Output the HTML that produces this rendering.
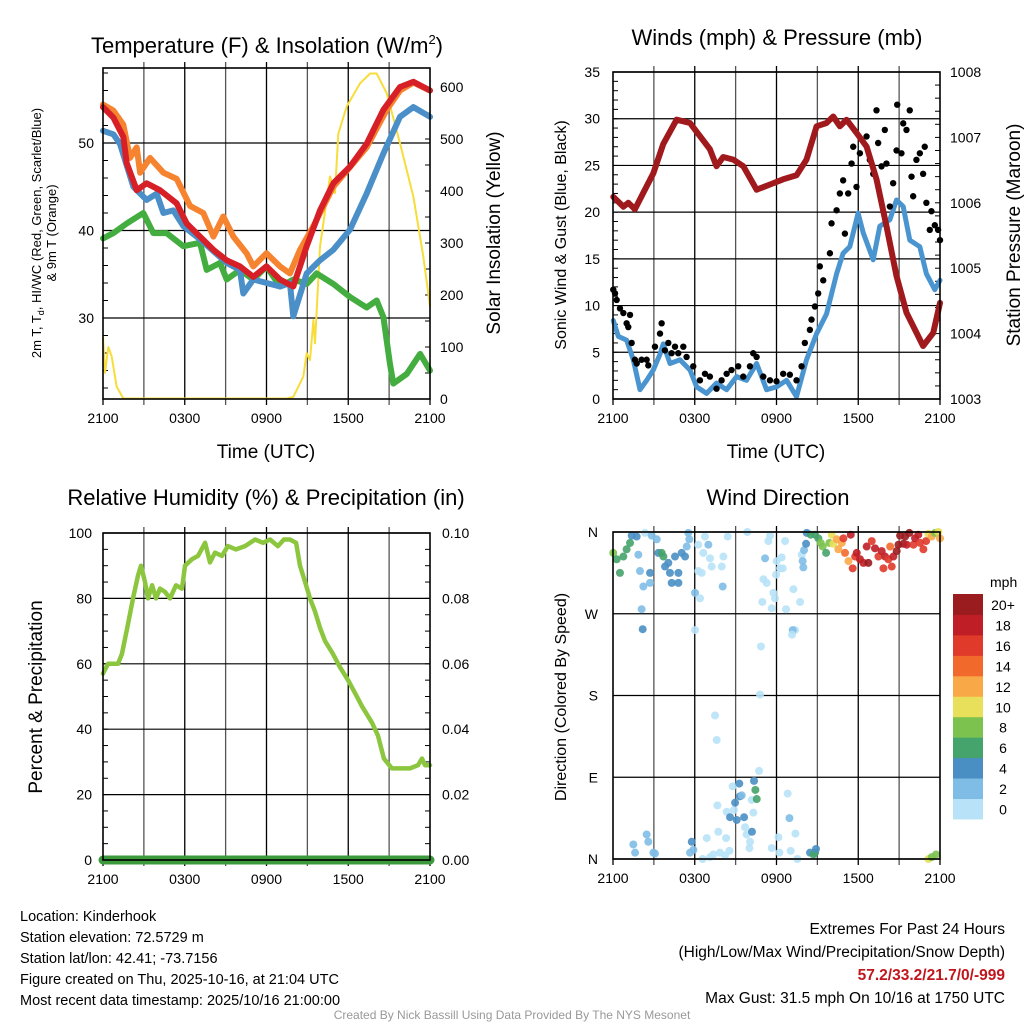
<!DOCTYPE html>
<html><head><meta charset="utf-8"><style>
html,body{margin:0;padding:0;background:#fff;}
svg{display:block;font-family:"Liberation Sans",sans-serif;}
</style></head>
<body>
<svg id="chart" width="1024" height="1024" viewBox="0 0 1024 1024" xmlns="http://www.w3.org/2000/svg">
<rect x="0" y="0" width="1024" height="1024" fill="#fff"/>
<g id="layer"></g>
<text x="267" y="53" font-size="22" text-anchor="middle">Temperature (F) &amp; Insolation (W/m<tspan font-size="13" dy="-9">2</tspan><tspan dy="9">)</tspan></text>
<text x="777" y="45" font-size="22" text-anchor="middle">Winds (mph) &amp; Pressure (mb)</text>
<text x="266" y="505" font-size="22" text-anchor="middle">Relative Humidity (%) &amp; Precipitation (in)</text>
<text x="778" y="505" font-size="22" text-anchor="middle">Wind Direction</text>
<text font-size="13" text-anchor="middle" transform="translate(41,233) rotate(-90)">2m T, T<tspan font-size="9" dy="3">d</tspan><tspan dy="-3">, HI/WC (Red, Green, Scarlet/Blue)</tspan></text>
<text font-size="13" text-anchor="middle" transform="translate(56,233) rotate(-90)">&amp; 9m T (Orange)</text>
<text font-size="19" text-anchor="middle" transform="translate(500,233) rotate(-90)">Solar Insolation (Yellow)</text>
<text x="266" y="458" font-size="19" text-anchor="middle">Time (UTC)</text>
<text font-size="16" text-anchor="middle" transform="translate(566,235) rotate(-90)">Sonic Wind &amp; Gust (Blue, Black)</text>
<text font-size="19" text-anchor="middle" transform="translate(1020,235) rotate(-90)">Station Pressure (Maroon)</text>
<text x="776" y="458" font-size="19" text-anchor="middle">Time (UTC)</text>
<text font-size="19" text-anchor="middle" transform="translate(42,697) rotate(-90)">Percent &amp; Precipitation</text>
<text font-size="16" text-anchor="middle" transform="translate(566,697) rotate(-90)">Direction (Colored By Speed)</text>
<text x="990" y="587" font-size="14">mph</text>
<g font-size="14.5">
<text x="20" y="921">Location: Kinderhook</text>
<text x="20" y="942">Station elevation: 72.5729 m</text>
<text x="20" y="963">Station lat/lon: 42.41; -73.7156</text>
<text x="20" y="984">Figure created on Thu, 2025-10-16, at 21:04 UTC</text>
<text x="20" y="1005">Most recent data timestamp: 2025/10/16 21:00:00</text>
</g>
<g font-size="15.5" text-anchor="end">
<text x="1005" y="934">Extremes For Past 24 Hours</text>
<text x="1005" y="957">(High/Low/Max Wind/Precipitation/Snow Depth)</text>
<text x="1005" y="980" fill="#c0171e" font-weight="bold">57.2/33.2/21.7/0/-999</text>
<text x="1005" y="1003">Max Gust: 31.5 mph On 10/16 at 1750 UTC</text>
</g>
<text x="512" y="1019" font-size="12" fill="#999" text-anchor="middle">Created By Nick Bassill Using Data Provided By The NYS Mesonet</text>
</svg>
<script>
// ---- data (hours after 2100 UTC) ----
const timeLabels = ["2100","0300","0900","1500","2100"];
const redT = [0,0.76,1.49,1.74,2.47,3.2,4.18,5.41,6.14,7.12,8.1,9.08,10.05,11.03,12.0,12.99,13.97,14.95,15.93,16.9,18.13,19.35,20.58,21.8,22.78,24];
const redV = [54.1,52.9,50.7,47.7,44.6,45.4,44.6,43.1,40.8,39.3,37.8,36.6,35.9,34.7,35.9,34.4,33.6,38.2,42.3,45.4,47.3,49.9,53.8,56.4,57,56];
const orangeT = [0,0.76,1.49,1.98,2.47,2.72,3.45,4.43,5.41,6.39,7.36,8.1,8.83,9.57,10.54,11.03,12.0,12.99,13.72,14.46,15.44,16.9,19.35,20.82,21.8,22.78,24];
const orangeV = [54.4,53.7,52.1,48.3,49.5,46.6,48.3,46.6,45.9,42.8,42,39.3,41.6,39.3,37.4,35.9,37.4,35.9,35.1,37.8,40.5,45,49.5,53.8,56,56.9,56];
const blueT = [0,0.76,1.25,2.23,3.2,3.94,4.43,5.16,5.9,7.12,9.08,10.05,10.3,11.03,12.99,13.72,13.97,14.95,15.93,16.9,18.13,19.35,20.58,21.8,22.78,24];
const blueV = [51.4,51,49.9,45,43.5,44.2,42,42.3,40.5,39,36.3,35.5,32.8,34.4,33.6,34,30.2,35.1,36.6,37.8,40.1,44.2,48.8,53,54.1,53];
const greenT = [0,0.76,1.74,2.96,3.69,4.67,5.9,7.12,7.61,8.59,9.08,10.05,11.03,12.0,12.99,13.97,14.95,15.68,16.9,18.13,19.35,20.09,20.58,21.06,21.31,22.29,23.27,24];
const greenV = [39.1,39.7,40.8,42,39.7,39.7,38.2,38.6,35.5,36.3,34.4,35.5,34.4,35.9,33.6,34.4,33.9,35.1,33.9,32.4,31.2,32,30.1,24.8,22.5,23.6,25.9,24];
const solarT = [0,0.15,0.39,0.64,1.0,1.49,13.5,13.97,14.7,14.95,15.19,15.44,15.56,15.93,16.66,17.03,17.27,17.88,18.86,19.6,20.09,20.82,21.8,22.78,23.51,24];
const solarV = [118,50,100,82,24,1,1,4,43,88,75,152,107,293,428,396,510,562,607,626,626,588,492,389,274,178];
const presT = [0.02,0.76,1.12,1.61,2.22,2.96,3.69,4.67,5.65,6.38,7.11,7.6,8.09,8.83,9.56,10.54,11.52,12.49,13.47,14.2,14.94,15.67,16.16,16.65,17.14,17.87,18.61,19.34,20.07,20.81,21.54,22.76,23.5,24];
const presV = [1006.09,1005.94,1006.0,1005.9,1006.15,1006.45,1006.9,1007.27,1007.22,1007.02,1006.82,1006.56,1006.7,1006.66,1006.56,1006.2,1006.28,1006.36,1006.42,1006.66,1007.17,1007.22,1007.32,1007.17,1007.27,1007.07,1006.86,1006.36,1005.64,1004.88,1004.32,1003.81,1004.01,1004.47];
const windT = [0.02,0.39,1.0,1.49,1.98,2.47,2.96,3.45,3.69,4.18,4.91,5.65,6.14,6.87,7.6,8.34,9.07,9.8,10.54,11.27,12.0,12.74,13.47,14.2,14.94,15.67,16.41,16.89,17.38,17.99,18.36,19.1,19.58,20.32,20.81,21.3,21.78,22.52,23.0,23.62,24];
const windV = [8.4,6.7,6.3,4.2,1.0,2.0,3.1,4.8,5.9,3.8,4.2,3.1,1.3,0.6,1.7,1.0,2.4,2.0,3.8,1.0,1.3,2.0,0.25,4.2,7.0,9.1,13.4,15.6,16.3,19.9,17.8,14.9,18.5,19.2,21.3,20.6,17.0,16.3,13.4,11.7,12.7];
const gustT = [0.02,0.15,0.27,0.51,0.76,1.0,1.12,1.25,1.37,1.61,1.74,2.1,2.47,2.59,3.08,3.45,3.57,3.81,4.06,4.3,4.55,4.79,5.16,5.4,5.89,6.38,6.75,7.11,7.6,7.97,8.34,8.7,9.19,9.56,10.05,10.29,10.54,11.03,11.52,12.0,12.49,12.98,13.47,13.84,14.08,14.45,14.57,14.82,15.06,15.18,15.43,15.92,16.04,16.41,16.65,16.89,17.02,17.26,17.51,17.63,17.87,18.12,18.61,18.85,19.1,19.34,19.46,19.71,19.95,20.07,20.32,20.56,20.81,20.86,21.17,21.3,21.54,21.78,21.91,22.03,22.27,22.52,22.76,22.88,23.0,23.25,23.37,23.62,23.86,24];
const gustV = [11.7,11.3,10.6,9.7,9.2,8.1,7.7,9.0,6.0,4.2,3.8,4.2,4.2,3.6,5.6,7.0,8.1,5.2,6.0,4.9,5.6,4.9,5.6,4.5,3.5,2.0,2.7,2.4,1.1,2.0,2.7,3.1,3.5,2.4,3.5,4.9,4.5,2.4,2.0,1.9,2.7,2.6,2.0,3.5,6.0,7.4,8.5,9.9,11.3,14.2,12.7,15.6,18.8,20.2,22.0,23.4,17.7,22.0,25.2,27.0,22.7,26.3,28.1,25.6,24.1,30.9,27.4,24.9,28.8,25.2,20.6,23.1,26.6,31.5,26.3,29.5,28.8,30.9,23.8,21.7,25.6,26.3,24.1,27.0,21.0,18.1,20.1,18.6,18.1,17.0];
const rhT = [0,0.37,1.1,1.39,1.83,2.2,2.57,2.79,3.08,3.3,3.6,3.89,4.18,4.55,4.92,5.36,5.8,6.02,6.53,6.97,7.49,7.85,8.22,8.73,9.17,9.76,10.42,11.16,11.74,12.26,12.84,13.28,13.72,14.17,14.46,14.83,15.19,15.56,15.93,16.29,16.88,17.39,17.98,18.5,19.01,19.74,20.18,20.62,21.21,21.8,22.53,23.12,23.41,23.63,24];
const rhV = [57,60,60,63,72,80,87,90,85,80,84,80,83,82,80,84,83,90,92,93,97,91,94,93,96,95,96,98,97,98,96,98,98,97,90,85,80,76,71,67,63,59,55,51,47,42,38,31,28,28,28,29,31,29,29];
const precipT = [0,24];
const precipV = [0,0];
const dirT = [0.02,0.27,0.51,0.76,1.0,1.25,1.37,1.74,1.86,1.98,2.23,2.72,2.72,2.1,2.18,2.35,2.84,3.21,3.33,3.57,3.7,3.82,4.06,4.18,4.31,4.55,4.8,4.8,5.04,5.29,5.41,5.53,5.6,6.02,6.02,6.26,6.39,6.26,6.51,6.63,6.75,7.0,7.12,7.24,7.98,8.1,8.05,8.42,7.49,7.61,9.86,10.79,10.86,10.96,11.04,11.16,11.28,11.4,11.53,11.65,11.77,11.89,11.97,12.01,12.26,12.38,12.46,12.63,12.7,13.24,13.36,13.19,13.14,13.73,13.85,13.92,13.97,14.02,14.17,14.22,14.51,14.83,15.07,15.24,15.39,15.64,15.88,16.05,16.17,16.42,16.54,16.79,16.91,17.03,17.28,17.45,17.59,17.77,17.89,18.13,18.38,18.62,18.74,18.99,19.23,19.48,19.72,19.85,19.97,20.21,20.34,20.46,20.58,20.82,20.95,21.07,21.31,21.44,21.56,21.75,22.05,22.17,22.41,22.54,22.78,22.98,23.15,23.39,23.64,23.88,24,
1.49,1.62,2.47,2.59,2.96,3.08,5.78,5.9,5.65,6.58,6.88,7.12,7.37,7.73,7.85,8.22,8.3,8.54,7.66,8.35,8.59,8.78,8.88,8.96,9.08,9.27,9.32,9.45,9.62,9.69,9.81,10.01,10.06,10.18,10.2,10.3,10.35,10.45,10.55,10.72,11.65,12.14,12.21,12.82,12.95,13.04,13.39,13.53,14.46,14.71,14.83,14.9,23.15,23.39,23.71];
const dirV = [337,330,315,333,341,348,356,355,335,317,300,304,315,275,253,359,356,352,337,337,333,322,326,315,304,333,315,304,337,333,344,359,352,293,252,346,287,317,315,337,355,346,331,322,322,333,300,355,158,131,360,181,234,283,308,331,304,350,356,276,293,287,313,328,320,332,320,350,275,297,252,252,247,283,335,328,321,340,347,359,357,357,353,348,344,337,348,357,347,352,341,348,353,337,328,357,320,333,337,330,326,344,326,350,342,333,339,320,333,330,344,322,333,339,346,356,347,355,346,359,346,353,357,348,341,350,358,355,359,360,353,
16,7,27,19,7,6,19,10,7,0,23,2,5,30,7,4,23,9,59,52,46,80,54,62,43,83,69,70,46,35,27,12,19,65,30,51,86,76,66,97,12,24,7,72,45,9,28,0,7,5,7,11,0,2,5];
const dirS = [9,7,7,7,7,7,5,5,3,3,3,3,5,3,5,1,3,3,5,7,7,5,5,5,5,5,5,5,5,5,3,3,3,3,1,1,1,1,1,1,1,3,1,1,1,1,3,1,1,1,1,1,1,1,1,3,1,1,1,1,1,1,1,1,1,1,1,1,1,1,1,3,1,1,1,3,3,3,5,5,7,7,7,9,9,7,9,11,11,13,13,13,17,15,13,19,17,17,19,19,19,19,21,17,19,17,19,17,19,17,15,17,19,21,21,21,21,21,19,21,17,19,19,17,17,17,11,13,9,11,13,
3,3,3,3,3,3,5,3,3,1,1,1,1,1,1,1,1,1,1,1,5,1,1,5,5,5,5,3,5,1,1,1,1,1,5,1,5,7,7,1,1,1,1,1,3,1,1,1,5,7,7,5,11,9,9];
const speedBins = ["0","2","4","6","8","10","12","14","16","18","20+"];
const binColors = ["#b8e2f7","#7fbde6","#4a8fc4","#45a36c","#7cc24e","#e8e05a","#f9a848","#f26a2b","#e03a2a","#c01e26","#9b1c1f"];

// ---- helpers ----
const NS="http://www.w3.org/2000/svg";
const layer=document.getElementById('layer');
function mk(tag,attrs,parent){const e=document.createElementNS(NS,tag);for(const k in attrs)e.setAttribute(k,attrs[k]);(parent||layer).appendChild(e);return e;}
function lin(d0,d1,r0,r1){return v=>r0+(v-d0)*(r1-r0)/(d1-d0);}
function pathOf(ts,vs,sx,sy){return ts.map((t,i)=>(i?'L':'M')+sx(t).toFixed(1)+' '+sy(vs[i]).toFixed(1)).join(' ');}

function frame(name,x0,y0,x1,y1){
  const g=mk('g',{});
  
  
  const sx=lin(0,24,x0,x1);
  for(let h=3;h<24;h+=3){
    const l=mk('line',{x1:sx(h),x2:sx(h),y1:y0-6,y2:y1+6,stroke:(h%6===0?'#000':'#555'),'stroke-width':1.3},g);
  }
  mk('line',{x1:x0,x2:x0,y1:y1,y2:y1+6,stroke:'#000','stroke-width':1.3},g);
  mk('line',{x1:x1,x2:x1,y1:y1,y2:y1+6,stroke:'#000','stroke-width':1.3},g);
  timeLabels.forEach((lab,i)=>{
    const t=mk('text',{x:sx(i*6),y:y1+24,'font-size':14,'text-anchor':'middle'},g);
    t.textContent=lab;
  });
  return {g,sx};
}
function box(name,x0,y0,x1,y1){
  const r=mk('rect',{x:x0,y:y0,width:x1-x0,height:y1-y0,fill:'none',stroke:'#000','stroke-width':1.6});
  
  
}
function yTicks(g,vals,labels,sy,x,anchor,gridX0,gridX1,grid){
  vals.forEach((v,i)=>{
    const t=mk('text',{x:x,y:sy(v)+5,'font-size':14,'text-anchor':anchor},g);
    t.textContent=labels[i];
    if(grid) mk('line',{x1:gridX0,x2:gridX1,y1:sy(v),y2:sy(v),stroke:'#000','stroke-width':1.2},g);
  });
}
function minor(g,x,dir,sy,d0,d1,step){
  for(let v=d0;v<=d1+1e-9;v+=step) mk('line',{x1:x,x2:x+dir*5,y1:sy(v),y2:sy(v),stroke:'#000','stroke-width':1},g);
}
function line(name,ts,vs,sx,sy,color,w){
  const p=mk('path',{d:pathOf(ts,vs,sx,sy),fill:'none',stroke:color,'stroke-width':w,'stroke-linejoin':'round','stroke-linecap':'round'});
  
  
  return p;
}

// ---- Panel 1: temperature ----
(function(){
  const x0=103,x1=430,y0=68,y1=399;
  const f=frame('temp',x0,y0,x1,y1);
  const sy=lin(30,40,318,230.5);
  const sr=lin(0,600,399,87);
  yTicks(f.g,[30,40,50],["30","40","50"],sy,94,'end',x0,x1,true);
  yTicks(f.g,[0,100,200,300,400,500,600],["0","100","200","300","400","500","600"],sr,440,'start',0,0,false);
  minor(f.g,x0,1,sy,22,58,2);
  minor(f.g,x1,-1,sr,0,600,50);
  line('solar-line',solarT,solarV,f.sx,sr,'#f7dd3c',2);
  line('dewpoint-line',greenT,greenV,f.sx,sy,'#43ad3f',6);
  line('heat-index-line',blueT,blueV,f.sx,sy,'#4a8fc8',6);
  line('temp-9m-line',orangeT,orangeV,f.sx,sy,'#f5832f',6);
  line('temp-2m-line',redT,redV,f.sx,sy,'#d61f26',6);
  box('temp',x0,y0,x1,y1);
})();

// ---- Panel 2: winds ----
(function(){
  const x0=613,x1=940,y0=72,y1=399;
  const f=frame('wind',x0,y0,x1,y1);
  const sy=lin(0,35,399,72);
  const sp=lin(1003,1008,399,72);
  yTicks(f.g,[0,5,10,15,20,25,30,35],["0","5","10","15","20","25","30","35"],sy,600,'end',x0,x1,true);
  yTicks(f.g,[1003,1004,1005,1006,1007,1008],["1003","1004","1005","1006","1007","1008"],sp,950,'start',0,0,false);
  minor(f.g,x0,1,sy,0,35,1);
  minor(f.g,x1,-1,sp,1003,1008,0.2);
  line('sonic-wind-line',windT,windV,f.sx,sy,'#4a95d0',5);
  const gg=mk('g',{});
  
  
  gustT.forEach((t,i)=>{
    const c=mk('circle',{cx:f.sx(t),cy:sy(gustV[i]),r:3.2,fill:'#000'},gg);
    
    
  });
  line('pressure-line',presT,presV,f.sx,sp,'#a0191c',6);
  box('wind',x0,y0,x1,y1);
})();

// ---- Panel 3: RH ----
(function(){
  const x0=103,x1=430,y0=533,y1=860;
  const f=frame('rh',x0,y0,x1,y1);
  const sy=lin(0,100,860,533);
  const sp=lin(0,0.1,860,533);
  yTicks(f.g,[0,20,40,60,80,100],["0","20","40","60","80","100"],sy,92,'end',x0,x1,true);
  yTicks(f.g,[0,0.02,0.04,0.06,0.08,0.1],["0.00","0.02","0.04","0.06","0.08","0.10"],sp,442,'start',0,0,false);
  minor(f.g,x0,1,sy,0,100,5);
  minor(f.g,x1,-1,sp,0,0.1,0.005);
  line('rh-line',rhT,rhV,f.sx,sy,'#8cc63f',4.5);
  line('precip-line',precipT,precipV,f.sx,sp,'#3c9a3c',9);
  box('rh',x0,y0,x1,y1);
})();

// ---- Panel 4: wind direction ----
(function(){
  const x0=613,x1=940,y0=532,y1=859;
  const f=frame('dir',x0,y0,x1,y1);
  const sy=lin(0,360,859,532);
  yTicks(f.g,[0,90,180,270,360],["N","E","S","W","N"],sy,598,'end',x0,x1,true);
  const gg=mk('g',{});
  
  
  dirT.forEach((t,i)=>{
    const bin=Math.min(10,Math.floor(dirS[i]/2));
    const c=mk('circle',{cx:f.sx(t),cy:sy(dirV[i]),r:4,fill:binColors[bin],'fill-opacity':0.9},gg);
    
    
  });
  box('dir',x0,y0,x1,y1);
  // colorbar
  const cb=mk('g',{});
  
  
  const top=594,bh=20.45;
  speedBins.forEach((lab,i)=>{
    const k=10-i;
    const r=mk('rect',{x:953,y:top+k*bh,width:30,height:bh+0.5,fill:binColors[i]},cb);
    
    
    const t=mk('text',{x:1003,y:top+k*bh+16,'font-size':14,'text-anchor':'middle'},cb);
    t.textContent=lab;
  });
})();
</script>
</body></html>
